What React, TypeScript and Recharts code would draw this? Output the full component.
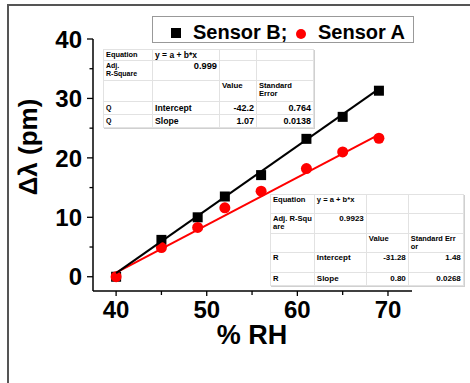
import React from 'react';
import { ScatterChart, Scatter, XAxis, YAxis } from 'recharts';

const rhValues = [40, 45, 49, 52, 56, 61, 65, 69];
const sensorB = [0.0, 6.2, 10.0, 13.5, 17.1, 23.2, 26.9, 31.3];
const sensorA = [0.0, 4.9, 8.3, 11.6, 14.4, 18.2, 21.0, 23.3];
const fitX = [40, 69];
const fitB = [0.6, 31.6];
const fitA = [0.7, 23.9];
const xTicks = [40, 45, 50, 55, 60, 65, 70];
const yTicks = [0, 5, 10, 15, 20, 25, 30, 35, 40];

const legendLabels = ['Sensor B;', 'Sensor A'];
const axisTitles = { x: '% RH', y: 'Δλ (pm)' };

const tableB = [
  ['Equation', 'y = a + b*x', '', ''],
  ['Adj.\nR-Square', '0.999', '', ''],
  ['', '', 'Value', 'Standard\nError'],
  ['Q', 'Intercept', '-42.2', '0.764'],
  ['Q', 'Slope', '1.07', '0.0138'],
];
const tableA = [
  ['Equation', 'y = a + b*x', '', ''],
  ['Adj. R-Squ\nare', '0.9923', '', ''],
  ['', '', 'Value', 'Standard Err\nor'],
  ['R', 'Intercept', '-31.28', '1.48'],
  ['R', 'Slope', '0.80', '0.0268'],
];

const pts = (xs: number[], ys: number[]) => xs.map((x, i) => ({ x, y: ys[i] }));
const dataB = pts(rhValues, sensorB);
const dataA = pts(rhValues, sensorA);
const lineB = pts(fitX, fitB);
const lineA = pts(fitX, fitA);

const FONT = '"Liberation Sans", Arial, sans-serif';

const YTick = (props: any) => {
  const { x, y, payload } = props;
  const major = payload.value % 10 === 0;
  return (
    <g>
      <line x1={x - (major ? 6 : 3.5)} x2={x} y1={y} y2={y} stroke="#000" strokeWidth={1.3} />
      {major && (
        <text x={x - 11} y={y} dy="0.36em" textAnchor="end" fontSize={24} fontWeight="bold" fontFamily={FONT} fill="#000">
          {payload.value}
        </text>
      )}
    </g>
  );
};

const XTick = (props: any) => {
  const { x, y, payload } = props;
  const major = payload.value % 10 === 0;
  return (
    <g>
      <line x1={x} x2={x} y1={y} y2={y + (major ? 5 : 4)} stroke="#000" strokeWidth={1.3} />
      {major && (
        <text x={x} y={y + 27} textAnchor="middle" fontSize={24} fontWeight="bold" fontFamily={FONT} fill="#000">
          {payload.value}
        </text>
      )}
    </g>
  );
};

const Square = (p: any) => <rect x={p.cx - 5} y={p.cy - 5} width={10} height={10} fill="#000" />;
const Dot = (p: any) => <circle cx={p.cx} cy={p.cy} r={5.5} fill="#ff0000" />;
const NoShape = () => <g />;

type TableProps = {
  rows: string[][];
  left: number;
  top: number;
  colW: number[];
  rowH: number[];
  bold: boolean[][];
  sizes: number[][];
  valign: string[];
};

const FitTable = ({ rows, left, top, colW, rowH, bold, sizes, valign }: TableProps) => (
  <table
    style={{
      position: 'absolute',
      left,
      top,
      borderCollapse: 'collapse',
      tableLayout: 'fixed',
      background: '#fff',
      border: '1px solid #b0b0b0',
      boxShadow: '1px 1px 0 #d0d0d0',
      fontFamily: FONT,
      color: '#000',
    }}
  >
    <colgroup>
      {colW.map((w, i) => (
        <col key={i} style={{ width: w }} />
      ))}
    </colgroup>
    <tbody>
      {rows.map((r, ri) => (
        <tr key={ri} style={{ height: rowH[ri] }}>
          {r.map((c, ci) => (
            <td
              key={ci}
              style={{
                border: '1px solid #e2e2e2',
                padding: '1px 2px',
                fontSize: sizes[ri][ci],
                fontWeight: bold[ri][ci] ? 'bold' : 'normal',
                lineHeight: '8px',
                verticalAlign: valign[ri] as any,
                textAlign: ci >= 1 && /^[-0-9.]+$/.test(c) ? 'right' : 'left',
                whiteSpace: 'pre',
                overflow: 'hidden',
                boxSizing: 'border-box',
              }}
            >
              {c}
            </td>
          ))}
        </tr>
      ))}
    </tbody>
  </table>
);

const allBold = [
  [true, true, true, true],
  [true, true, true, true],
  [true, true, true, true],
  [true, true, true, true],
  [true, true, true, true],
];

export default function App() {
  return (
    <div style={{ position: 'absolute', left: 0, top: 0, width: 470, height: 383, background: '#fff', overflow: 'hidden' }}>
      <div style={{ position: 'absolute', left: 7, top: 4, width: 470, height: 2, background: '#555' }} />
      <div style={{ position: 'absolute', left: 7, top: 4, width: 2, height: 383, background: '#555' }} />
      <ScatterChart width={470} height={383} margin={{ top: 39, right: 58, bottom: 62, left: 33 }} style={{ position: 'absolute', left: 0, top: 0 }}>
        <XAxis
          type="number"
          dataKey="x"
          domain={[37.45, 72.65]}
          ticks={xTicks}
          allowDataOverflow
          height={30}
          tickSize={0}
          tickMargin={0}
          tickLine={false}
          axisLine={{ stroke: '#000', strokeWidth: 1.5 }}
          tick={<XTick />}
          interval={0}
        />
        <YAxis
          type="number"
          dataKey="y"
          domain={[-2.4, 40]}
          ticks={yTicks}
          allowDataOverflow
          width={60}
          tickSize={0}
          tickMargin={0}
          tickLine={false}
          axisLine={{ stroke: '#000', strokeWidth: 1.5 }}
          tick={<YTick />}
          interval={0}
        />
        <Scatter data={dataB} shape={<Square />} isAnimationActive={false} />
        <Scatter data={dataA} shape={<Dot />} isAnimationActive={false} />
        <Scatter data={lineA} line={{ stroke: '#ff0000', strokeWidth: 2 }} shape={<NoShape />} isAnimationActive={false} />
        <Scatter data={lineB} line={{ stroke: '#000', strokeWidth: 2 }} shape={<NoShape />} isAnimationActive={false} />
      </ScatterChart>
      <svg width={470} height={383} style={{ position: 'absolute', left: 0, top: 0, pointerEvents: 'none' }}>
        <text x={252} y={344} textAnchor="middle" fontSize={27} fontWeight="bold" fontFamily={FONT} fill="#000">
          {axisTitles.x}
        </text>
        <text
          x={28}
          y={147}
          transform="rotate(-90 28 147)"
          textAnchor="middle"
          dominantBaseline="central"
          fontSize={26}
          fontWeight="bold"
          fontFamily={FONT}
          fill="#000"
        >
          {axisTitles.y}
        </text>
      </svg>
      <div
        style={{
          position: 'absolute',
          left: 152,
          top: 16,
          width: 262,
          height: 27,
          boxSizing: 'border-box',
          border: '1px solid #999',
          background: '#fff',
        }}
      >
        <svg width={260} height={25} style={{ position: 'absolute', left: 0, top: 0 }}>
          <rect x={18} y={11} width={10} height={10} fill="#000" />
          <text x={40} y={22} fontSize={20} fontWeight="bold" fontFamily={FONT} fill="#000">
            {legendLabels[0]}
          </text>
          <circle cx={148} cy={17} r={5} fill="#ff0000" />
          <text x={165} y={22} fontSize={20} fontWeight="bold" fontFamily={FONT} fill="#000">
            {legendLabels[1]}
          </text>
        </svg>
      </div>
      <FitTable
        rows={tableB}
        left={103}
        top={49}
        colW={[49, 67, 37, 57]}
        rowH={[11, 20, 21, 13, 13]}
        bold={allBold}
        sizes={[
          [7.4, 8.5, 8, 8],
          [7, 9.3, 8, 8],
          [8, 8, 7.9, 7.6],
          [7, 8.7, 9, 9],
          [7, 8.7, 9, 9],
        ]}
        valign={['middle', 'top', 'top', 'middle', 'middle']}
      />
      <FitTable
        rows={tableA}
        left={270}
        top={194}
        colW={[42, 52, 42, 55]}
        rowH={[19, 20, 18, 20, 13]}
        bold={allBold}
        sizes={[
          [7.6, 7.6, 8, 8],
          [7.6, 8, 8, 8],
          [8, 8, 7.6, 7.4],
          [7.6, 8, 8, 8],
          [7.6, 8, 8, 8],
        ]}
        valign={['top', 'top', 'top', 'top', 'middle']}
      />
    </div>
  );
}
